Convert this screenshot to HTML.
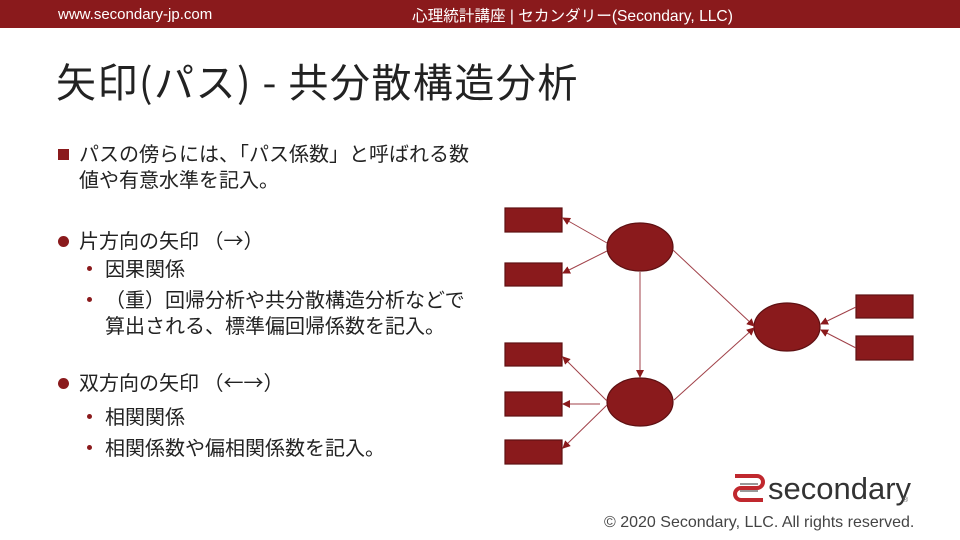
<!DOCTYPE html><html><head><meta charset="utf-8"><style>
body{margin:0;width:960px;height:540px;background:#fff;position:relative;overflow:hidden;font-family:"Liberation Sans","Noto Sans CJK JP",sans-serif;color:#222}
.bar{position:absolute;left:0;top:0;width:960px;height:28px;background:#8a1a1c;color:#fff;font-size:15px}
.t{position:absolute;white-space:nowrap}
.b{font-size:20px;line-height:26px;font-family:"Noto Sans CJK JP",sans-serif}
</style></head><body>
<div class="bar"><span class="t" style="left:58px;top:6px">www.secondary-jp.com</span><span class="t" style="left:412px;top:4px;font-size:15.6px">心理統計講座 | セカンダリー(Secondary, LLC)</span></div>
<div class="t" style="left:56px;top:50px;font-size:40px;line-height:60px;letter-spacing:1.5px;color:#222;font-family:'Noto Sans CJK JP',sans-serif">矢印(パス) - 共分散構造分析</div>
<div class="t" style="left:58px;top:149px;width:11px;height:11px;background:#8a1a1c"></div>
<div class="t b" style="left:79px;top:140px">パスの傍らには、「パス係数」と呼ばれる数<br>値や有意水準を記入。</div>
<div class="t" style="left:58px;top:236px;width:11px;height:11px;border-radius:50%;background:#8a1a1c"></div>
<div class="t b" style="left:79px;top:227px">片方向の矢印 （→）</div>
<div class="t" style="left:87px;top:266px;width:5px;height:5px;border-radius:50%;background:#8a1a1c"></div>
<div class="t b" style="left:105px;top:255px">因果関係</div>
<div class="t" style="left:87px;top:297px;width:5px;height:5px;border-radius:50%;background:#8a1a1c"></div>
<div class="t b" style="left:105px;top:286px">（重）回帰分析や共分散構造分析などで<br>算出される、標準偏回帰係数を記入。</div>
<div class="t" style="left:58px;top:378px;width:11px;height:11px;border-radius:50%;background:#8a1a1c"></div>
<div class="t b" style="left:79px;top:369px">双方向の矢印 （←→）</div>
<div class="t" style="left:87px;top:414px;width:5px;height:5px;border-radius:50%;background:#8a1a1c"></div>
<div class="t b" style="left:105px;top:403px">相関関係</div>
<div class="t" style="left:87px;top:445px;width:5px;height:5px;border-radius:50%;background:#8a1a1c"></div>
<div class="t b" style="left:105px;top:434px">相関係数や偏相関係数を記入。</div>
<svg class="t" style="left:0;top:0" width="960" height="540">
<defs><marker id="a" markerWidth="8" markerHeight="8" refX="7" refY="4" orient="auto" markerUnits="userSpaceOnUse"><path d="M0,0L8,4L0,8z" fill="#8a1a1c"/></marker></defs>
<g fill="#8a1a1c" stroke="#5e1012" stroke-width="1.2">
<rect x="505" y="208" width="57" height="24"/><rect x="505" y="263" width="57" height="23"/>
<rect x="505" y="343" width="57" height="23"/><rect x="505" y="392" width="57" height="24"/><rect x="505" y="440" width="57" height="24"/>
<rect x="856" y="295" width="57" height="23"/><rect x="856" y="336" width="57" height="24"/>
<ellipse cx="640" cy="247" rx="33" ry="24"/><ellipse cx="640" cy="402" rx="33" ry="24"/><ellipse cx="787" cy="327" rx="33" ry="24"/>
</g>
<g stroke="#a04048" stroke-width="1" marker-end="url(#a)">
<line x1="607" y1="243" x2="563" y2="218"/><line x1="607" y1="251" x2="563" y2="273"/>
<line x1="640" y1="272" x2="640" y2="377"/>
<line x1="673" y1="250" x2="754" y2="326"/><line x1="674" y1="400" x2="754" y2="328"/>
<line x1="607" y1="401" x2="563" y2="357"/><line x1="600" y1="404" x2="563" y2="404"/><line x1="607" y1="405" x2="563" y2="448"/>
<line x1="856" y1="307" x2="821" y2="324"/><line x1="856" y1="348" x2="821" y2="330"/>
</g>
<g fill="none" stroke="#c0282e" stroke-width="4"><path d="M735,476h22a6,6 0 0 1 0,12h-16a6,6 0 0 0 0,12h22"/></g>
<g fill="#999"><rect x="740" y="483" width="18" height="2"/><rect x="740" y="490" width="18" height="2"/></g>
<text x="768" y="499" font-size="31" fill="#333" font-family="Liberation Sans,sans-serif">secondary</text>
<text x="903" y="502" font-size="7" fill="#666">®</text>
</svg>
<div class="t" style="left:604px;top:514px;font-size:16px;color:#444">© 2020 Secondary, LLC. All rights reserved.</div>
</body></html>
